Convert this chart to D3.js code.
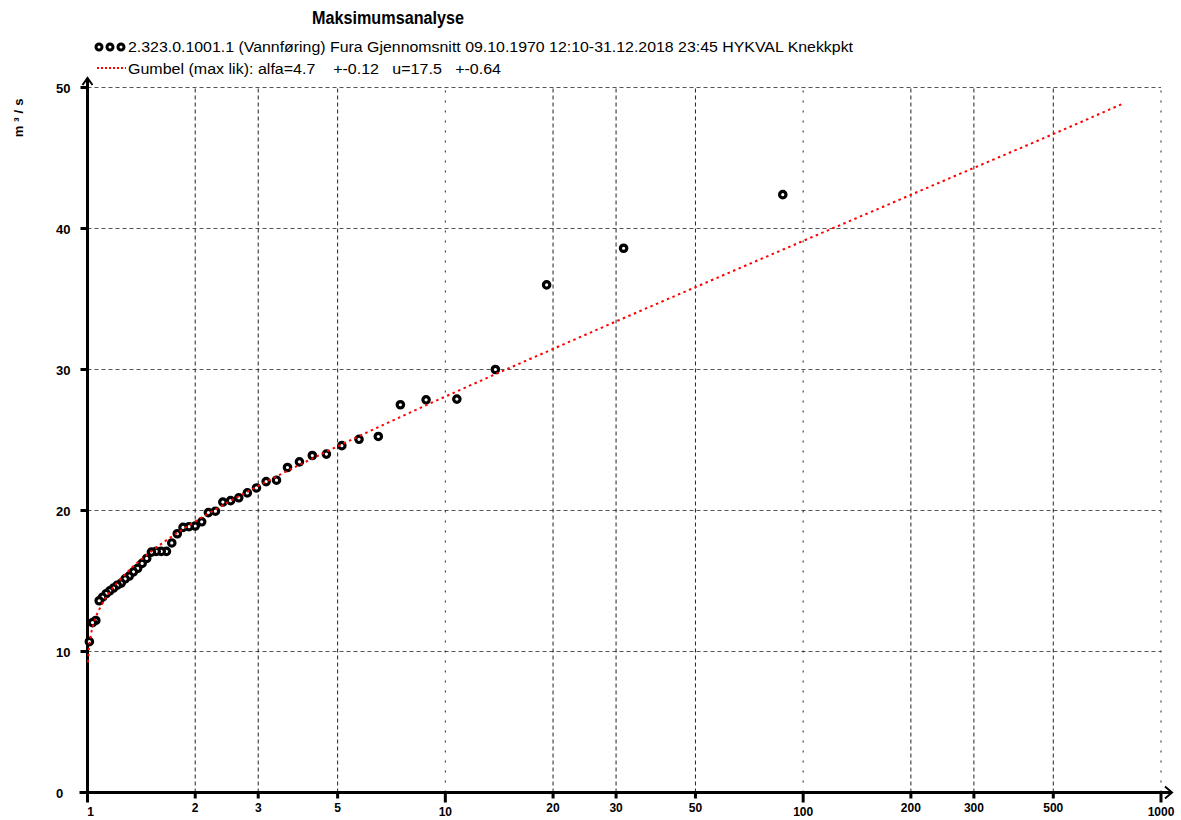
<!DOCTYPE html>
<html>
<head>
<meta charset="utf-8">
<script src="https://cdn.jsdelivr.net/npm/d3@7"></script>
<style>
  body { margin: 0; background: #fff; }
  svg { display: block; }
  text { font-family: "Liberation Sans", Arial, sans-serif; }
</style>
</head>
<body>
<svg id="chart" width="1181" height="820"></svg>
<script>
// ---- data ----
const title = "Maksimumsanalyse";
const seriesLabel = "2.323.0.1001.1 (Vannføring) Fura Gjennomsnitt 09.10.1970 12:10-31.12.2018 23:45 HYKVAL Knekkpkt";
const fitLabel = "Gumbel (max lik): alfa=4.7    +-0.12   u=17.5   +-0.64";
const yLabel = "m³/s";

// annual maxima: return period (years) and discharge (m3/s)
const returnPeriods = [87.71, 31.49, 19.19, 13.80, 10.77, 8.835, 7.488, 6.497, 5.738, 5.138,
  4.652, 4.249, 3.911, 3.622, 3.374, 3.157, 2.966, 2.797, 2.647, 2.511,
  2.389, 2.278, 2.177, 2.085, 2.000, 1.922, 1.849, 1.782, 1.720, 1.662,
  1.607, 1.556, 1.509, 1.464, 1.421, 1.381, 1.344, 1.308, 1.274, 1.242,
  1.211, 1.182, 1.154, 1.128, 1.102, 1.078, 1.055, 1.033, 1.012];
const maxFlows = [42.4, 38.6, 36.0, 30.0, 27.9, 27.85, 27.5, 25.25, 25.05, 24.6,
  24.0, 23.9, 23.45, 23.05, 22.15, 22.05, 21.6, 21.25, 20.9, 20.7,
  20.6, 19.95, 19.85, 19.2, 18.9, 18.85, 18.8, 18.35, 17.7, 17.1,
  17.1, 17.1, 17.05, 16.6, 16.25, 15.9, 15.65, 15.35, 15.15, 14.85,
  14.7, 14.5, 14.3, 14.1, 13.85, 13.6, 12.2, 12.05, 10.7];

// fitted Gumbel curve
const fitT = [1.003, 1.01, 1.02, 1.05, 1.1, 1.2, 1.3, 1.5, 1.75, 2, 2.5, 3, 4, 5, 7, 10, 15, 20, 30, 50, 75, 100, 150, 200, 300, 500, 790];
const fitQ = [9.23, 10.31, 11.06, 12.27, 13.39, 14.76, 15.70, 17.06, 18.28, 19.22, 20.66, 21.74, 23.36, 24.55, 26.29, 28.08, 30.07, 31.46, 33.41, 35.84, 37.76, 39.12, 41.03, 42.39, 44.30, 46.70, 48.90];

const xTicks = [1, 2, 3, 5, 10, 20, 30, 50, 100, 200, 300, 500, 1000];
const xMajor = [1, 10, 100, 1000];
const yTicks = [0, 10, 20, 30, 40, 50];

// ---- drawing ----
const svg = d3.select("#chart");
const x = d3.scaleLog().domain([1, 1000]).range([87.5, 1161]);
const y = d3.scaleLinear().domain([0, 50]).range([792.5, 87.5]);

// grid
const grid = svg.append("g");
grid.selectAll("line.h").data(yTicks.filter(d => d > 0)).join("line")
  .attr("x1", x(1)).attr("x2", x(1000))
  .attr("y1", d => y(d)).attr("y2", d => y(d))
  .attr("stroke", "#555").attr("stroke-width", 1).attr("stroke-dasharray", "4,3");
grid.selectAll("line.v").data(xTicks.filter(d => d > 1)).join("line")
  .attr("x1", d => x(d)).attr("x2", d => x(d))
  .attr("y1", y(0)).attr("y2", y(50))
  .attr("stroke", "#222").attr("stroke-width", 1)
  .attr("stroke-dasharray", d => xMajor.includes(d) ? "2,8" : "4,3");

// axes
const ax = svg.append("g").attr("stroke", "#000").attr("fill", "none");
ax.append("line").attr("x1", x(1)).attr("x2", x(1)).attr("y1", y(0) + 4).attr("y2", 78).attr("stroke-width", 3);
ax.append("path").attr("d", `M${x(1) - 5},85 L${x(1)},78 L${x(1) + 5},85`).attr("stroke-width", 2);
ax.append("line").attr("x1", x(1) - 8).attr("x2", 1172).attr("y1", y(0)).attr("y2", y(0)).attr("stroke-width", 3);
ax.append("path").attr("d", `M1165,${y(0) - 6} L1172,${y(0)} L1165,${y(0) + 6}`).attr("stroke-width", 2);

// y ticks
ax.selectAll("line.yt").data(yTicks).join("line")
  .attr("x1", x(1) - 7).attr("x2", x(1)).attr("y1", d => y(d)).attr("y2", d => y(d)).attr("stroke-width", 3);
svg.append("g").selectAll("text").data(yTicks).join("text")
  .attr("x", 56).attr("y", d => y(d) + 5)
  .attr("font-size", 13).attr("font-weight", "bold")
  .text(d => d);

// x ticks
ax.selectAll("line.xt").data(xTicks).join("line")
  .attr("x1", d => x(d)).attr("x2", d => x(d))
  .attr("y1", y(0)).attr("y2", d => xMajor.includes(d) ? y(0) + 10 : y(0) + 6)
  .attr("stroke-width", 3);
svg.append("g").selectAll("text").data(xTicks).join("text")
  .attr("x", d => x(d) + (d === 1 ? 3 : 0)).attr("y", d => xMajor.includes(d) ? 816 : 812)
  .attr("text-anchor", "middle")
  .attr("font-size", 12).attr("font-weight", "bold")
  .text(d => d);

// y label
svg.append("text")
  .attr("transform", "translate(23,116) rotate(-90)")
  .attr("text-anchor", "middle")
  .attr("font-size", 13).attr("font-weight", "bold")
  .attr("letter-spacing", 4)
  .text(yLabel);

// title
svg.append("text").attr("x", 388).attr("y", 24).attr("text-anchor", "middle")
  .attr("font-size", 18).attr("font-weight", "bold")
  .attr("textLength", 152).attr("lengthAdjust", "spacingAndGlyphs")
  .text(title);

// legend
const points = returnPeriods.map((t, i) => ({ t, q: maxFlows[i] }));
const leg = svg.append("g");
leg.selectAll("circle").data([99, 110, 121]).join("circle")
  .attr("cx", d => d).attr("cy", 47).attr("r", 3)
  .attr("fill", "#fff").attr("stroke", "#000").attr("stroke-width", 3);
leg.append("text").attr("x", 128).attr("y", 52)
  .attr("font-size", 14)
  .attr("textLength", 725).attr("lengthAdjust", "spacingAndGlyphs")
  .text(seriesLabel);
leg.append("line").attr("x1", 97).attr("x2", 126).attr("y1", 68).attr("y2", 68)
  .attr("stroke", "#ff0000").attr("stroke-width", 2).attr("stroke-dasharray", "2,2");
leg.append("text").attr("x", 128).attr("y", 74)
  .attr("font-size", 14).style("white-space", "pre")
  .attr("textLength", 373).attr("lengthAdjust", "spacingAndGlyphs")
  .text(fitLabel);

// points
svg.append("g").selectAll("circle").data(points).join("circle")
  .attr("cx", d => x(d.t)).attr("cy", d => y(d.q)).attr("r", 3.2)
  .attr("fill", "#fff").attr("stroke", "#000").attr("stroke-width", 3.2);

// fitted curve
const fit = fitT.map((t, i) => ({ t, q: fitQ[i] }));
svg.append("path").datum(fit)
  .attr("d", d3.line().x(d => x(d.t)).y(d => y(d.q)).curve(d3.curveMonotoneX))
  .attr("fill", "none").attr("stroke", "#ff0000").attr("stroke-width", 2)
  .attr("stroke-dasharray", "2.5,3.5");
</script>
</body>
</html>
